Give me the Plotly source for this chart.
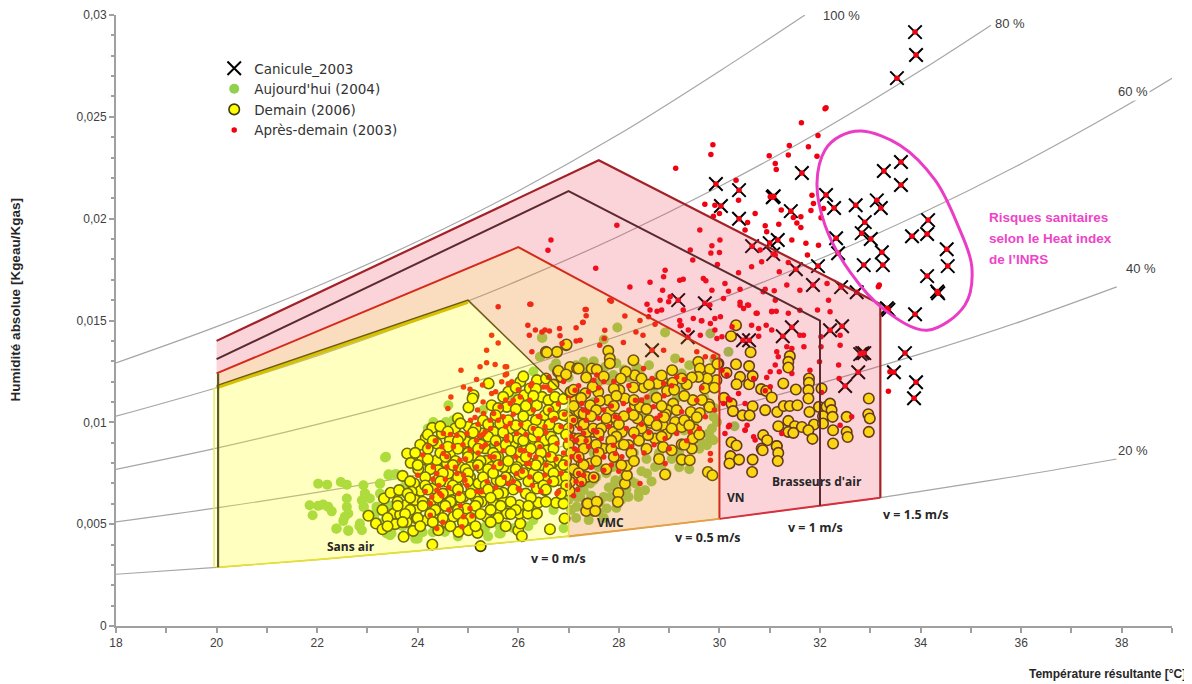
import plotly.graph_objects as go

FONT = "Liberation Sans"
LABEL_FONT = "Open Sans"

# Humidity curves: temperature, absolute humidity
hr100_t = [18, 20, 22, 24, 26, 28, 30, 31.7]
hr100_w = [.01292, .01470, .01668, .01889, .02136, .02414, .02724, .0300]
hr80_t = [18, 20, 22, 24, 26, 28, 30, 32, 34, 35.4]
hr80_w = [.01030, .01170, .01326, .01501, .01696, .01914, .02158, .02428, .02727, .0295]
hr60_t = [18, 20, 22, 24, 26, 28, 30, 32, 34, 36, 38, 39]
hr60_w = [.00769, .00873, .00990, .01119, .01264, .01425, .01605, .01803, .02024, .02270, .02542, .02689]
hr40_t = [18, 20, 22, 24, 26, 28, 30, 32, 34, 36, 37.9]
hr40_w = [.00511, .00580, .00656, .00742, .00837, .00942, .01060, .01191, .01336, .01496, .01665]
hr20_t = [18, 20, 22, 24, 26, 28, 30, 32, 33.2, 34, 36, 37.9]
hr20_w = [.00254, .00288, .00326, .00369, .00416, .00468, .00526, .00590, .0063, .00661, .00739, .00820]

# Comfort zones
zone_yellow_t = [20, 20, 25, 27, 27, 26, 24, 22, 20]
zone_yellow_w = [.00288, .0117, .0159, .0112, .0044, .00416, .00369, .00326, .00288]
zone_orange_t = [20, 20, 26, 30, 30, 28, 27, 27, 25, 20]
zone_orange_w = [.0117, .0124, .0186, .0133, .00526, .00468, .0044, .0112, .0159, .0117]
zone_pink_t = [20, 20, 27.6, 33.2, 33.2, 32, 30, 30, 26, 20]
zone_pink_w = [.0124, .0140, .02287, .0158, .0063, .0059, .00526, .0133, .0186, .0124]
inner_t = [20, 27, 32, 32]
inner_w = [.0131, .02135, .0150, .0059]
ellipse_t = [31.94, 32.10, 32.40, 32.83, 33.59, 34.29, 34.74, 35.02, 34.88, 34.13, 33.29, 32.60, 32.10, 31.94]
ellipse_w = [.02175, .02337, .02405, .0243, .02361, .02189, .01968, .01762, .01575, .01452, .01551, .01737, .01968, .02175]

canicule = [(33.89,.02916),(33.91,.02804),(33.53,.0269),(33.27,.02234),(33.61,.02278),(33.61,.02165),(29.93,.0217),(30.03,.02062),
(30.39,.0214),(30.39,.0200),(31.08,.0211),(31.06,.02105),(31.64,.02224),(31.42,.02037),(32.12,.02116),(32.28,.02052),(32.71,.02066),
(33.13,.0209),(33.21,.02052),(32.89,.01983),(32.83,.01929),(33.01,.019),(32.32,.01904),(32.36,.0183),(31.16,.01895),(31.0,.0188),
(30.65,.01865),(31.07,.01826),(34.15,.01993),(34.13,.01925),(33.83,.01914),(34.52,.0185),(34.54,.01767),(33.23,.01835),(33.25,.01772),
(32.87,.01772),(34.13,.01718),(34.35,.01634),(34.33,.01642),(33.89,.01531),(33.33,.0156),(33.36,.01553),(31.52,.01752),(31.96,.01767),
(31.86,.01674),(32.42,.01664),(32.73,.01639),(29.18,.016),(29.71,.01585),(30.59,.01403),(29.37,.01418),(31.26,.01423),(31.44,.01467),
(32.2,.01452),(32.44,.01472),(32.84,.0134),(32.88,.0134),(32.8,.01335),(32.76,.01246),(32.5,.01178),(33.69,.0134),(33.47,.01246),
(33.91,.01197),(33.87,.01118),(28.66,.01354),(30.47,.01403)]

aujourdhui = [(22.02,.00699),(22.2,.00694),(22.47,.00707),(22.59,.00694),(21.85,.00593),(21.91,.00544),(22.02,.0059),(22.12,.00596),
(22.22,.00585),(22.29,.00563),(22.38,.00478),(22.62,.00467),(22.59,.00626),(22.59,.00585),(22.55,.00536),(22.52,.00516),(22.62,.00552),
(22.84,.0049),(22.89,.0047),(22.92,.00691),(22.95,.0065),(22.89,.00617),(22.93,.00585),(23.05,.00626),(23.25,.00699),(23.35,.00827),
(23.25,.0065),(23.42,.0074),(23.55,.00745),(23.32,.00577),(23.38,.00454),(23.48,.00454),(24.0,.00429),(23.18,.00585),(23.38,.00527),
(25.64,.00486),(25.65,.00454),(25.34,.00478),(24.54,.00462),(27.97,.01466),(26.48,.01415),(27.7,.01407),(28.92,.01441),(29.82,.01436),
(30.18,.01346),(30.3,.00981),(29.81,.00929),(29.68,.00896),(26.44,.01322),(27.3,.01297),(27.73,.01273),(27.89,.01232),(28.42,.01256),
(29.12,.01314),(29.25,.0124),(27.79,.01207),(28.66,.01125),(28.56,.01109),(27.89,.00781),(27.93,.00716),(28.33,.007),(28.56,.00749),
(28.72,.00781),(28.79,.00839),(28.19,.00634),(28.39,.00634),(27.83,.00634),(27.76,.00577),(27.43,.007),(27.23,.00634),(27.3,.00667),
(27.16,.00585),(27.7,.00634),(28.52,.00667),(29.78,.00945),(29.75,.00888),(29.95,.01002),(29.88,.00912),(29.88,.01027),(23.37,.00831),
(23.42,.00745),(23.58,.00745),(24.61,.01084),(24.31,.01002),(24.56,.01002),(26.1,.01232),(26.47,.01415),(26.43,.01322),(25.64,.00487),
(25.62,.00454),(25.34,.00487),(23.95,.00429),(23.45,.00446),(23.25,.00503),(22.85,.00503),(22.39,.00479),(22.62,.0047),(23.45,.00536),
(23.15,.00552),(22.92,.00585),(22.95,.00651),(23.25,.007),(27.43,.0088),(27.5,.00716),(27.16,.00634),(25.84,.00585),(24.5,.0075),
(25.0,.0085),(25.5,.009),(26.0,.0095),(26.5,.01),(27.0,.0105),(27.5,.011),(28.0,.0115),(28.5,.0105),(29.0,.0095),(29.5,.01),(28.0,.009),
(27.5,.0085),(28.3,.0085),(28.8,.0085),(29.2,.0085),(27.6,.012),(28.2,.0122),(28.9,.0118),(29.5,.0123),(29.6,.0087),(27.2,.0075),(27.6,.0078),
(28.1,.0073),(23.8,.0052),(24.3,.0046),(24.8,.0044),(25.9,.0048),(26.3,.0052),(27.0,.0122),(27.35,.0125),(27.15,.0128),(26.7,.0127),(26.3,.0125),
(28.1,.0126),(28.6,.0128),(29.3,.0118),(29.7,.0112),(29.9,.0107),(29.4,.0077),(28.55,.0082),(28.95,.0075),(28.2,.0079),(27.9,.0069),(27.35,.0058),
(27.6,.0056),(27.95,.0058),(28.15,.0067),(27.05,.0057),(27.15,.0053),(27.0,.0062),(26.7,.0057),(26.2,.0049),(25.1,.0049),(24.1,.0046),(23.7,.0049),
(23.6,.0056),(23.15,.0052),(23.0,.0055),(23.45,.0059),(23.6,.0063),(23.75,.0069),(24.0,.0081),(24.2,.0097),(24.7,.0101),(25.3,.0106),(25.9,.0112),
(27.25,.0069),(27.45,.0064),(27.62,.0061),(27.8,.0068),(28.05,.0062),(28.25,.0071),(28.45,.0076),(28.65,.0071),(28.85,.0079),(29.05,.0082),(29.2,.0078),
(27.55,.0073),(27.75,.0075),(28.0,.0079),(28.4,.0066),(27.4,.0052),(27.7,.0053),(29.55,.0092),(29.3,.0096),(29.85,.0097),(28.35,.0127),(28.8,.0123),
(27.5,.013),(27.95,.0129),(29.4,.0128),(29.7,.0125),(29.9,.0131),(26.75,.0129),(28.7,.0114),(29.15,.0112),(26.35,.0058),(26.9,.0048),(25.4,.0044)]

demain = [(30.33,.01477),(30.23,.01423),(30.62,.01344),(31.40,.01325),(31.37,.01297),(31.37,.01269),(30.33,.01285),(30.59,.01276),
(30.14,.01243),(29.98,.01289),(30.41,.01223),(30.34,.01187),(30.59,.01187),(30.66,.01227),(31.27,.01191),(31.78,.01215),(31.78,.01194),
(32.03,.01166),(31.52,.01161),(31.77,.01158),(31.77,.01117),(30.83,.01163),(30.93,.01154),(31.04,.01122),(30.09,.0112),(30.24,.01092),
(32.97,.01117),(30.66,.01079),(30.91,.0106),(30.27,.01055),(30.46,.01034),(30.6,.01034),(31.15,.01051),(31.28,.0108),(31.40,.0108),
(31.55,.01084),(31.79,.01051),(31.98,.01076),(32.13,.01076),(32.2,.01092),(32.23,.0106),(32.06,.0103),(32.25,.01027),(32.53,.01027),
(32.96,.0104),(32.99,.01019),(31.37,.01007),(31.17,.00981),(31.50,.00981),(31.64,.00977),(31.88,.00989),(32.06,.00994),(31.37,.00953),
(31.47,.00948),(31.77,.00961),(32.26,.00961),(32.53,.00953),(32.55,.00928),(32.97,.00953),(30.87,.00937),(30.95,.00912),(31.85,.00919),
(32.26,.00896),(30.24,.00902),(30.34,.00886),(31.14,.00884),(30.84,.00871),(30.86,.00863),(31.14,.00883),(31.17,.0085),(31.16,.0081),
(30.22,.00834),(30.2,.00798),(30.39,.00817),(30.66,.00817),(30.65,.00756),(29.77,.00756),(29.86,.0074),(28.92,.00744),(29.25,.00817),
(29.41,.00814),(29.45,.00871),(29.25,.00892),(27.99,.00653),(27.98,.00609),(27.57,.00609),(27.37,.00601),(27.52,.00565),(27.35,.00565),
(28.12,.00699),(28.16,.0074),(28.16,.00786),(27.26,.00798),(26.55,.01346),(26.77,.01346),(26.95,.01379),(27.79,.01351),(27.82,.01313),
(27.82,.01289),(28.29,.01305),(27.03,.01272),(27.17,.01264),(27.46,.01264),(27.56,.01259),(26.86,.01223),(26.79,.01248),(29.06,.01256),
(29.58,.01297),(29.61,.01264),(29.81,.01261),(29.96,.01287),(29.94,.01207),(29.76,.01215),(29.58,.01223),(29.45,.0122),(29.35,.01186),
(29.07,.01194),(28.86,.01207),(28.70,.01191),(28.77,.0119),(28.50,.01171),(28.29,.01171),(28.32,.01231),(28.14,.01248),(28.04,.01215),
(28.01,.01158),(28.96,.01154),(29.71,.01166),(29.47,.01109),(29.43,.01051),(29.61,.01046),(29.79,.01089),(29.08,.01092),(28.97,.0106),
(28.93,.0104),(29.12,.01002),(29.25,.00977),(29.51,.00965),(29.47,.0092),(28.87,.00986),(28.94,.0094),(28.72,.0092),(28.58,.00937),
(28.63,.00997),(28.88,.00879),(29.05,.00863),(28.32,.01084),(28.42,.01076),(28.37,.01019),(28.29,.01035),(28.12,.01117),(27.81,.01051),
(27.76,.00997),(27.94,.01019),(27.89,.00953),(28.06,.00953),(28.19,.00888),(28.02,.00896),(27.69,.00871),(27.49,.00953),(27.35,.00912),
(27.23,.00994),(27.21,.01051),(26.99,.01027),(27.13,.01109),(27.43,.01084),(27.59,.01149),(27.33,.01142),(27.79,.01109),(27.04,.01149),
(23.02,.00541),(23.17,.00503),(23.30,.00475),(23.72,.00438),(24.29,.004),(25.25,.00392),(23.33,.00626),(23.46,.00654),(23.63,.00667),
(23.70,.00737),(23.79,.00847),(23.86,.00801),(24.01,.0077),(24.09,.00818),(24.16,.00924),(24.29,.00973),(24.38,.00896),(24.25,.0079),
(24.38,.00814),(23.93,.007),(24.06,.00664),(23.88,.00659),(23.73,.00593),(23.98,.00572),(23.95,.00618),(23.52,.00552),(23.65,.00547),
(23.55,.005),(23.78,.00511),(23.98,.00528),(23.91,.00467),(24.18,.0052),(24.41,.0047),(24.58,.00506),(24.71,.00536),(24.41,.00552),
(24.25,.006),(24.51,.00598),(24.30,.00675),(24.39,.00716),(24.58,.00708),(24.81,.00462),(25.01,.0047),(25.19,.00457),(24.91,.00536),
(25.11,.00569),(24.78,.00585),(24.91,.00634),(25.14,.00634),(25.27,.0061),(25.37,.00536),(25.57,.00569),(25.70,.0061),(25.51,.00659),
(25.31,.00659),(25.07,.00675),(24.78,.00683),(24.61,.0065),(26.0,.0047),(26.07,.00441),(26.04,.00503),(26.02,.00552),(26.02,.00593),
(26.19,.00552),(26.37,.00552),(26.40,.00606),(26.63,.00475),(26.75,.00605),(26.92,.00528),(26.90,.00601),(27.02,.00664),(26.37,.00675),
(26.53,.00667),(25.80,.00716),(26.02,.00744),(26.27,.00732),(26.47,.0079),(26.80,.00716),(26.80,.00814),(26.57,.00863),(27.03,.00708),
(27.04,.00765),(26.63,.0079),(26.23,.00798),(26.07,.00814),(25.82,.00778),(25.70,.00654),(25.57,.00716),(25.36,.00811),(25.21,.007),
(25.04,.00732),(25.11,.00839),(25.34,.00872),(24.84,.00781),(24.61,.00749),(24.91,.00896),(24.64,.00912),(24.97,.00904),(24.48,.00945),
(24.74,.0097),(25.01,.00978),(25.27,.00945),(25.51,.00953),(25.64,.00994),(25.84,.0097),(26.04,.00953),(26.17,.00986),(26.47,.00986),
(26.23,.0106),(26.37,.01084),(26.73,.01076),(26.53,.01035),(26.90,.01035),(26.80,.0097),(26.53,.00912),(26.27,.00904),(25.80,.0115),
(25.77,.01076),(26.12,.01133),(26.04,.01199),(26.23,.01166),(26.37,.01207),(26.47,.01125),(26.60,.01109),(26.86,.01223),(26.80,.01253),
(26.73,.01125),(27.04,.0115),(27.2,.01264),(25.11,.01133),(25.41,.01191),(25.01,.01073),(25.09,.01117),(26.57,.01343),(26.96,.01382),
(25.47,.01084),(27.10,.00921),(27.23,.00994),(27.36,.00953),(27.49,.0097),(27.30,.01043),(27.43,.00798),(27.36,.00732),(27.38,.00601),
(27.56,.0061),(27.53,.00565),(26.04,.00855),(25.60,.00831),(25.90,.00896),(26.17,.0088),(26.30,.00929),(25.64,.0088),(25.80,.00921),
(25.37,.00913),(25.11,.00896),(24.64,.00847),(24.41,.00765),(24.58,.00798),(25.04,.00781),(25.27,.00773),(25.47,.00781),(25.70,.00781),
(25.97,.00781),(26.30,.00749),(26.57,.00716),(26.83,.00765),(25.51,.006),(25.77,.00552),(24.97,.00577),(24.68,.00618),(24.15,.006)]

demain_dense = [(26.1,.01225),(26.55,.01215),(26.95,.01235),(27.35,.0122),(27.7,.01225),(28.45,.01215),(28.85,.0123),(29.25,.01215),
(25.95,.0117),(26.35,.01165),(26.7,.01185),(27.1,.0116),(27.48,.01175),(27.9,.01165),(28.6,.01185),(29.1,.0116),(29.9,.0117),
(25.7,.01125),(26.0,.0111),(26.3,.0113),(26.9,.01115),(27.25,.0112),(27.62,.01105),(27.95,.0113),(28.3,.0111),(28.75,.0112),(29.3,.0113),(29.65,.0111),
(25.6,.0107),(25.95,.01065),(26.15,.0108),(26.6,.0106),(27.1,.0108),(27.55,.0106),(27.9,.0108),(28.55,.01065),(28.85,.0108),(29.15,.0106),(29.8,.01075),
(24.8,.0102),(25.3,.0101),(25.55,.01035),(25.8,.0101),(26.1,.0103),(26.35,.0101),(26.7,.0103),(27.08,.0101),(27.45,.0103),(27.75,.0102),(28.1,.0103),(28.6,.0101),(28.9,.01025),(29.3,.0101),(29.55,.01025),
(24.45,.0098),(24.85,.00995),(25.15,.0097),(25.4,.0099),(25.95,.00985),(26.3,.00965),(26.62,.0099),(27.0,.0097),(27.3,.0099),(27.65,.0097),(28.0,.0099),(28.45,.0097),(28.75,.00985),(29.05,.0097),(29.4,.00985),
(24.2,.0094),(24.6,.00955),(24.85,.0093),(25.1,.0095),(25.4,.0093),(25.7,.0095),(26.0,.0092),(26.4,.0095),(26.65,.0093),(26.95,.0094),(27.2,.0092),(27.6,.00945),(27.95,.0093),(28.3,.0095),(28.85,.0093),(29.6,.0094),
(24.05,.0089),(24.3,.0091),(24.6,.0088),(24.8,.0091),(25.25,.0089),(25.55,.0091),(25.75,.0089),(26.1,.0091),(26.4,.0088),(26.7,.0091),(27.0,.0089),(27.25,.0091),(27.55,.0089),(27.85,.0091),(28.1,.0089),(28.4,.0091),(29.3,.0089),
(23.95,.0085),(24.2,.0087),(24.45,.0085),(24.8,.0087),(25.0,.0085),(25.2,.0087),(25.5,.0085),(25.85,.0086),(26.25,.0087),(26.45,.0085),(26.7,.0087),(27.05,.0085),(27.3,.0087),(27.6,.0085),(27.85,.0087),(28.25,.0085),(28.55,.0087),
(24.2,.0082),(24.55,.0083),(24.75,.0081),(25.0,.0083),(25.25,.0081),(25.55,.0083),(25.8,.0081),(26.15,.0083),(26.4,.0081),(26.65,.0083),(26.95,.0081),(27.2,.0083),(27.55,.0081),(27.9,.0083),(28.3,.0081),(28.8,.0082),
(24.0,.0079),(24.25,.0077),(24.7,.0079),(24.95,.0077),(25.2,.0079),(25.4,.0077),(25.6,.0079),(25.95,.0077),(26.35,.0079),(26.6,.0077),(26.9,.0079),(27.1,.0077),(27.3,.0079),(27.75,.0077),(28.05,.0079),
(24.15,.0073),(24.5,.0075),(24.8,.0073),(25.0,.0075),(25.3,.0073),(25.5,.0075),(25.75,.0073),(26.1,.0075),(26.4,.0073),(26.7,.0075),(26.95,.0073),(27.2,.0075),(27.5,.0073),
(23.85,.0071),(24.15,.0069),(24.45,.0071),(24.7,.0069),(25.0,.0071),(25.35,.0069),(25.65,.0071),(25.95,.0069),(26.2,.0071),(26.5,.0069),(26.7,.0071),(26.95,.0069),(27.25,.0071),
(23.8,.0065),(24.2,.0067),(24.5,.0065),(24.8,.0067),(25.05,.0065),(25.4,.0067),(25.6,.0065),(25.9,.0067),(26.15,.0065),(26.55,.0067),(26.85,.0065),
(23.6,.0061),(23.85,.0063),(24.1,.0061),(24.4,.0063),(24.65,.0061),(24.85,.0063),(25.2,.0061),(25.45,.0063),(25.85,.0061),(26.25,.0063),(26.55,.0061),
(23.3,.0057),(23.6,.0059),(23.85,.0057),(24.1,.0059),(24.35,.0057),(24.55,.0059),(24.8,.0057),(25.15,.0059),(25.45,.0057),(25.65,.0059),(25.95,.0057),(26.2,.0059),
(23.4,.0053),(23.75,.0055),(24.0,.0053),(24.25,.0055),(24.5,.0053),(24.8,.0055),(25.05,.0053),(25.25,.0055),(25.6,.0053),(25.85,.0055),
(23.4,.0049),(23.7,.0051),(24.05,.0049),(24.3,.0051),(24.65,.0049),(24.9,.0051),(25.15,.0049),(25.45,.0051),(25.75,.0049)]

apres_demain = [(32.10,.0254),(32.12,.02544),(31.63,.02471),(31.96,.02408),(29.87,.02363),(29.83,.02315),(31.39,.02359),(31.77,.02353),
(31.37,.02312),(31.94,.02307),(30.99,.02309),(31.11,.02271),(31.13,.02241),(29.13,.02248),(30.33,.02189),(30.38,.02091),(29.71,.02071),
(29.91,.02066),(30.0,.02025),(30.71,.02025),(30.56,.01981),(30.91,.01965),(31.18,.01973),(31.23,.02042),(31.47,.02006),(31.62,.02009),
(31.54,.01979),(31.62,.01957),(31.82,.0204),(31.87,.02074),(31.84,.02115),(32.07,.0205),(32.02,.02004),(31.01,.02107),(29.88,.02012),
(30.94,.01936),(31.44,.01895),(31.72,.01879),(31.97,.0187),(31.75,.01821),(31.11,.01821),(29.85,.01867),(30.0,.01834),(29.42,.01846),
(29.96,.01775),(30.64,.01764),(30.38,.01734),(30.84,.01788),(31.37,.01785),(31.19,.01739),(28.89,.01715),(29.28,.01703),(29.68,.01706),
(30.11,.01682),(29.73,.01695),(30.41,.01653),(30.91,.01653),(31.09,.01646),(31.34,.01674),(31.60,.01649),(32.17,.016),(32.14,.01682),
(28.87,.01649),(29.02,.01617),(29.85,.01649),(29.81,.01576),(30.08,.01608),(30.18,.01644),(30.41,.0159),(30.56,.01576),(30.87,.01641),
(31.11,.016),(31.6,.0155),(31.95,.01551),(32.20,.01543),(30.73,.01535),(31.04,.01546),(31.13,.01546),(31.37,.01535),(30.48,.01559),
(28.85,.01551),(28.99,.01592),(29.28,.01551),(29.48,.0151),(29.64,.01499),(29.91,.0151),(29.22,.01474),(29.38,.01453),(29.62,.01428),
(29.91,.01453),(29.95,.01412),(30.05,.0142),(30.25,.01469),(30.64,.01477),(30.78,.01461),(30.93,.01477),(31.04,.01453),(30.78,.01423),
(31.6,.01428),(31.67,.01428),(32.02,.0142),(32.4,.01428),(32.4,.01379),(31.68,.01371),(32.02,.01371),(31.14,.01346),(31.44,.01363),
(31.34,.01371),(31.17,.01322),(31.11,.01281),(31.99,.01297),(32.37,.01281),(31.80,.01256),(31.44,.0124),(31.19,.01248),(30.94,.0122),
(31.01,.01248),(30.68,.01215),(32.38,.01215),(32.03,.01147),(33.36,.01153),(33.18,.01674),(33.16,.01666),(33.39,.01248),(30.21,.0111),
(30.51,.01093),(30.18,.00978),(30.51,.00962),(30.11,.00945),(30.71,.00913),(30.38,.01142),(31.01,.01175),(32.40,.00986),(32.63,.01028),
(31.24,.00945),(30.91,.01155),(26.25,.0158),(27.35,.01554),(27.35,.01523),(27.28,.0149),(27.15,.01464),(26.19,.01477),(26.34,.01453),
(26.47,.01444),(26.62,.01449),(26.82,.01461),(26.83,.01425),(26.22,.01428),(26.27,.01346),(27.15,.01399),(26.87,.01387),(27.71,.01412),
(28.09,.01392),(28.34,.01444),(28.48,.01428),(28.72,.01482),(28.89,.01354),(28.59,.01518),(27.85,.01595),(28.56,.0158),(28.76,.01546),
(29.24,.01477),(29.65,.01499),(29.82,.01485),(30.02,.01518),(30.41,.01575),(30.58,.01575),(30.75,.01535),(31.04,.01543),(27.56,.01232),
(27.5,.01207),(27.7,.01199),(28.49,.01264),(28.66,.01215),(28.89,.01191),(29.15,.01223),(29.25,.01305),(29.55,.01346),(29.72,.01322),
(29.88,.01322),(30.05,.01256),(30.15,.01232),(30.18,.01117),(30.08,.01092),(30.55,.00986),(30.2,.00986),(30.51,.00961),(30.68,.00929),
(29.82,.00847),(29.82,.00814),(28.92,.00798),(28.42,.007),(27.7,.00765),(27.5,.00732),(27.23,.00814),(27.17,.00863),(27.13,.00912),
(27.3,.00945),(27.4,.0088),(27.56,.00953),(27.89,.00888),(27.93,.00847),(28.06,.00831),(27.93,.01027),(28.09,.01092),(27.7,.0106),
(27.56,.01109),(27.3,.0106),(27.13,.01158),(27.26,.01092),(28.33,.01109),(28.56,.01125),(28.69,.01076),(28.82,.01035),(29.15,.00945),
(28.92,.00921),(29.42,.00953),(29.25,.01052),(29.55,.01109),(29.72,.01027),(26.77,.0065),(26.04,.00667),(26.63,.0106),(26.73,.01019),
(26.3,.0106),(26.5,.01174),(26.27,.01191),(26.04,.01125),(25.84,.01092),(25.77,.01273),(25.74,.01232),(26.65,.01895),(26.59,.01845),
(27.96,.01968),(27.29,.01492),(26.53,.01453),(27.54,.01757),(28.62,.01688),(28.22,.01664),(27.82,.016),(28.42,.015),(28.12,.01522),
(27.72,.01452),(28.82,.016),(29.21,.015),(28.62,.01551),(29.47,.01797),(30.01,.01895),(29.83,.01831),(29.61,.01944),(30.51,.01944),
(30.81,.01846),(29.21,.01698),(28.92,.01747),(27.62,.01379),(27.23,.01403),(25.6,.01567),(26.23,.0158),(27.33,.01554),(25.47,.01428),
(25.6,.0139),(25.37,.01354),(25.37,.01292),(25.54,.01284),(25.24,.01273),(24.86,.01256),(25.74,.01273),(25.77,.01237),(25.17,.0121),
(24.91,.01174),(25.04,.01163),(25.29,.01183),(25.67,.01199),(25.87,.01199),(24.66,.01125),(25.47,.01142),(25.19,.0106),(24.6,.01068),
(25.14,.01024),(24.21,.0088),(24.48,.0088),(24.51,.00847),(24.58,.00831),(24.78,.00937),(24.98,.00945),(25.17,.00912),(25.24,.00937),
(25.34,.00953),(25.44,.0101),(25.51,.01043),(25.70,.01027),(25.84,.00994),(25.77,.00929),(25.97,.00945),(26.04,.00863),(26.23,.00839),
(26.43,.0088),(26.6,.00839),(26.77,.00896),(26.96,.00912),(27.16,.00912),(27.2,.00831),(26.96,.00798),(26.8,.00659),(26.53,.00741),
(26.23,.00732),(26.0,.00675),(25.27,.00659),(24.94,.00716),(24.91,.00741),(24.78,.00749),(24.38,.00749),(24.38,.00667),(24.44,.00651),
(24.28,.00634),(24.25,.00601),(24.25,.00544),(24.38,.00479),(24.88,.00487),(24.91,.00536),(25.04,.00577),(25.51,.00781),(25.8,.007),
(25.77,.00912),(25.27,.0088),(25.04,.00863),(24.84,.00814),(24.58,.00781),(24.31,.00781),(24.71,.0088),(24.51,.00945),(25.57,.00896),
(25.31,.01043),(25.64,.01076),(25.9,.01109),(26.23,.01109),(26.57,.01174),(26.63,.01158),(26.43,.01027),(26.53,.00978),(27.03,.00978),
(27.1,.0101),(27.06,.00831),(27.2,.00749),(27.26,.007),(25.44,.00831),(25.17,.00781),(25.64,.00798),(25.97,.00749),(26.23,.00798),(26.17,.00798)]

apres_demain_dense = [(24.35,.0091),(24.65,.0094),(24.9,.0089),(25.05,.0101),(25.2,.0099),(25.3,.0094),(25.45,.0097),(25.6,.0101),(25.75,.0098),
(25.9,.0104),(26.05,.0099),(26.15,.0094),(26.3,.0097),(26.4,.0092),(26.55,.0095),(26.68,.0101),(26.85,.0098),(26.92,.0104),(27.05,.0093),(27.12,.0087),
(26.9,.0085),(26.75,.0082),(26.55,.0079),(26.35,.0083),(26.12,.0086),(25.95,.0083),(25.7,.0086),(25.52,.0083),(25.35,.0089),(25.2,.0085),(24.95,.0082),
(24.75,.0078),(24.55,.0072),(24.42,.0069),(24.3,.0072),(24.48,.0064),(24.62,.0068),(24.82,.0065),(24.98,.0069),(25.18,.0066),(25.38,.0071),(25.55,.0068),
(25.72,.0073),(25.9,.0071),(26.08,.0076),(26.28,.0069),(26.45,.0066),(26.62,.0071),(26.85,.0075),(26.98,.0069),(27.1,.0064),(27.15,.0071),(24.62,.0057),
(24.85,.0059),(25.08,.0054),(24.5,.0051),(24.15,.0066),(24.0,.0074),(24.1,.0084),(27.22,.0097),(27.35,.0101),(27.5,.0096),(27.65,.0092),(27.8,.0098),
(28.0,.0102),(28.15,.0097),(28.3,.0093),(28.45,.0099),(28.6,.0095),(28.75,.0102),(27.35,.0091),(27.55,.0086),(27.7,.0083),(27.85,.0079),(28.0,.0076),
(27.45,.0078),(27.3,.0074),(27.18,.0067),(27.38,.0105),(27.6,.0102),(27.85,.0108),(28.2,.0106),(28.45,.0111),(28.9,.0113),(29.05,.0118),(29.3,.0121),
(27.2,.0118),(27.4,.0115),(27.6,.0117),(27.9,.012),(28.2,.0118),(26.9,.012),(26.6,.0122),(26.25,.0118),(26.0,.0116),(25.8,.0119),(25.55,.0115),(25.3,.011),
(25.75,.0111),(26.4,.0103),(26.8,.0109),(27.0,.0112),(28.25,.0088),(28.5,.0085),(28.7,.0089),(29.0,.0087),(29.35,.0091),(29.6,.0097),(29.9,.0106),(29.65,.0117)]

y_ticks = [0, .005, .01, .015, .02, .025, .03]
y_labels = ["0", "0,005", "0,01", "0,015", "0,02", "0,025", "0,03"]
x_ticks = [18, 20, 22, 24, 26, 28, 30, 32, 34, 36, 38]

fig = go.Figure()

for t, w in [(hr100_t, hr100_w), (hr80_t, hr80_w), (hr60_t, hr60_w), (hr40_t, hr40_w), (hr20_t, hr20_w)]:
    fig.add_trace(go.Scatter(x=t, y=w, mode="lines", showlegend=False, hoverinfo="skip", cliponaxis=False,
                             line=dict(color="#a6a6a6", width=1.2, shape="spline")))

def pts(name, data, rank, marker):
    fig.add_trace(go.Scatter(x=[p[0] for p in data], y=[p[1] for p in data], mode="markers", name=name,
                             legendrank=rank, marker=marker))

pts("Aujourd'hui (2004)", aujourdhui, 2, dict(color="#92d050", size=10, line=dict(width=0)))
pts("Demain (2006)", demain + demain_dense, 3, dict(color="#ffff00", size=10.5, line=dict(color="#403a10", width=1.6)))
pts("Canicule_2003", canicule, 1, dict(symbol="x-thin", size=13.5, color="#000000", line=dict(color="#000000", width=2)))
pts("Après-demain (2003)", apres_demain + apres_demain_dense + canicule, 4, dict(color="#f00010", size=5.5, line=dict(width=0)))

for t, w, c in [(zone_yellow_t, zone_yellow_w, "rgba(255,255,0,0.25)"),
                (zone_orange_t, zone_orange_w, "rgba(240,140,40,0.30)"),
                (zone_pink_t, zone_pink_w, "rgba(235,60,80,0.22)")]:
    fig.add_trace(go.Scatter(x=t, y=w, mode="lines", fill="toself", fillcolor=c, showlegend=False,
                             hoverinfo="skip", line=dict(width=0)))

def edge(t, w, color, width):
    fig.add_trace(go.Scatter(x=t, y=w, mode="lines", showlegend=False, hoverinfo="skip",
                             line=dict(color=color, width=width)))

edge([20, 27.6, 33.2, 33.2], [.0140, .02287, .0158, .0063], "#a32127", 2.2)
edge([33.2, 32, 30], [.0063, .0059, .00526], "#d5303c", 2)
edge(inner_t, inner_w, "#5c2a2e", 2)
edge([20, 26, 30, 30], [.0124, .0186, .0133, .00526], "#d42a1a", 2)
edge([27, 28, 30], [.0044, .00468, .00526], "#e5a040", 2)
edge([20, 25], [.0117, .0159], "#d8c000", 3.2)
edge([20, 25, 27], [.0118, .0160, .0112], "#6a5c10", 1.4)
edge([27, 27], [.0112, .0044], "#e8e040", 1.6)
edge([20, 22, 24, 26, 27], [.00288, .00326, .00369, .00416, .0044], "#e8e030", 1.6)
edge([19.95, 19.95], [.00288, .0117], "#eeee50", 1.5)
edge([20.03, 20.03], [.00288, .0124], "#5e5a20", 2.2)
edge(ellipse_t, ellipse_w, "#ea3cc4", 3)
fig.data[-1].line.shape = "spline"

labels = [(22.67, .00392, "Sans air", 12), (27.84, .00509, "VMC", 12), (30.33, .00632, "VN", 12), (31.94, .0071, "Brasseurs d'air", 12),
          (26.79, .00333, "v = 0 m/s", 12.5), (29.77, .00436, "v = 0.5 m/s", 12.5), (31.92, .00485, "v = 1 m/s", 12.5), (33.91, .00549, "v = 1.5 m/s", 12.5)]
annotations = [dict(x=x, y=y, text=s, showarrow=False, font=dict(family=LABEL_FONT, size=sz, color="#262626", weight="bold"))
               for x, y, s, sz in labels]
pct = [(32.42, .0300, "100 %"), (35.78, .0296, "80 %"), (38.22, .02622, "60 %"), (38.38, .01757, "40 %"), (38.22, .00863, "20 %")]
annotations += [dict(x=x, y=y, text=s, showarrow=False, bgcolor="#ffffff", font=dict(family=FONT, size=13, color="#404040"))
                for x, y, s in pct]
for y, s in [(.02007, "Risques sanitaires"), (.01904, "selon le Heat index"), (.01801, "de l’INRS")]:
    annotations.append(dict(x=35.32, y=y, text=s, xanchor="left", showarrow=False,
                            font=dict(family=FONT, size=13.5, color="#ee44c8", weight="bold")))
annotations.append(dict(x=1.0152, y=-0.0791, xref="paper", yref="paper", xanchor="right", yanchor="middle", showarrow=False,
                        text="Température résultante [°C]",
                        font=dict(family=FONT, size=12, color="#262626", weight="bold")))
annotations.append(dict(x=-0.0956, y=0.533, xref="paper", yref="paper", xanchor="center", yanchor="middle", textangle=-90, showarrow=False,
                        text="Humidité absolue [Kgeau/Kgas]",
                        font=dict(family=FONT, size=13.5, color="#262626", weight="bold")))

axis_common = dict(showgrid=False, zeroline=False, showline=True, linecolor="#a0a0a0", linewidth=2, automargin=False,
                   ticks="outside", ticklen=5, tickcolor="#a0a0a0", tickwidth=1.5,
                   tickfont=dict(family=FONT, size=12, color="#404040"))
fig.update_layout(
    width=1184, height=676, autosize=False,
    margin=dict(l=108, r=20, t=7, b=58),
    paper_bgcolor="#ffffff", plot_bgcolor="#ffffff",
    xaxis=dict(range=[18, 39], tickvals=x_ticks, minor=dict(dtick=1, ticks="outside", ticklen=5, tickcolor="#a0a0a0"), **axis_common),
    yaxis=dict(range=[0, .03], tickvals=y_ticks, ticktext=y_labels,
               minor=dict(dtick=.001, ticks="outside", ticklen=3, tickcolor="#a0a0a0"), **axis_common),
    legend=dict(x=.093, y=.9378, xanchor="left", yanchor="top", bgcolor="rgba(0,0,0,0)",
                font=dict(family="DejaVu Sans", size=13.5, color="#333333"), itemsizing="trace", tracegroupgap=0),
    annotations=annotations,
    hovermode=False,
)
fig.write_html("out.html")
